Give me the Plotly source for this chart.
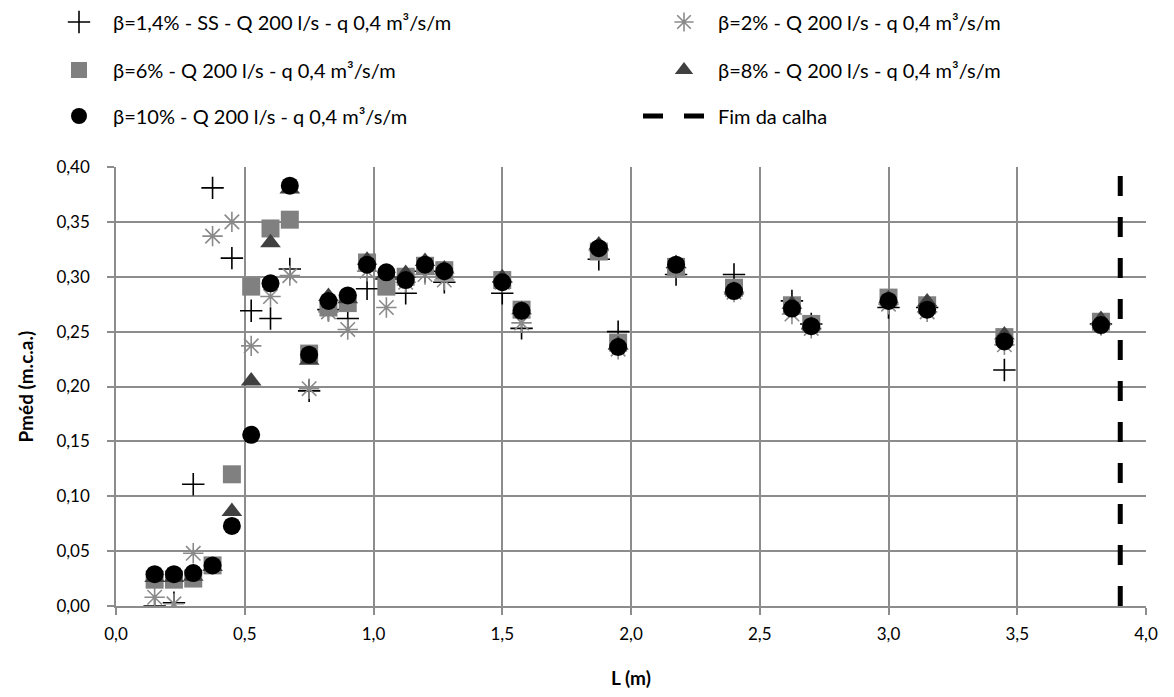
import plotly.graph_objects as go

# Measurement positions along the chute (m)
L_pos = [0.15, 0.225, 0.30, 0.375, 0.45, 0.525, 0.60, 0.675, 0.75, 0.825, 0.90, 0.975,
         1.05, 1.125, 1.20, 1.275, 1.50, 1.575, 1.875, 1.95, 2.175, 2.40, 2.625, 2.70,
         3.00, 3.15, 3.45, 3.825]

# Mean pressure (m.c.a.) for each slope
p_b14 = [0.000, 0.003, 0.111, 0.381, 0.317, 0.269, 0.262, 0.307, 0.196, 0.270, 0.262, 0.289,
         0.298, 0.285, 0.305, 0.295, 0.285, 0.253, 0.316, 0.250, 0.302, 0.302, 0.278, 0.257,
         0.272, 0.272, 0.215, 0.257]
p_b2 = [0.008, 0.002, 0.048, 0.337, 0.350, 0.237, 0.282, 0.301, 0.198, 0.268, 0.252, 0.305,
        0.272, 0.295, 0.302, 0.297, 0.295, 0.258, 0.324, 0.234, 0.308, 0.286, 0.266, 0.253,
        0.275, 0.268, 0.238, 0.256]
p_b6 = [0.024, 0.024, 0.025, 0.037, 0.120, 0.291, 0.344, 0.352, 0.230, 0.272, 0.276, 0.313,
        0.291, 0.300, 0.310, 0.306, 0.297, 0.270, 0.323, 0.240, 0.309, 0.290, 0.274, 0.257,
        0.281, 0.274, 0.245, 0.259]
p_b8 = [0.026, 0.026, 0.027, 0.036, 0.086, 0.205, 0.331, 0.380, 0.224, 0.282, 0.280, 0.315,
        0.303, 0.303, 0.314, 0.307, 0.299, 0.270, 0.329, 0.238, 0.312, 0.288, 0.275, 0.256,
        0.280, 0.277, 0.247, 0.261]
p_b10 = [0.029, 0.029, 0.030, 0.037, 0.073, 0.156, 0.294, 0.383, 0.229, 0.278, 0.283, 0.311,
         0.304, 0.297, 0.311, 0.305, 0.295, 0.269, 0.326, 0.236, 0.311, 0.287, 0.271, 0.255,
         0.278, 0.270, 0.241, 0.256]

# End of the chute
fim_x = [3.9, 3.9]
fim_y = [0.0, 0.40]

names = [
    "β=1,4% - SS - Q 200 l/s - q 0,4 m³/s/m",
    "β=2% - Q 200 l/s - q 0,4 m³/s/m",
    "β=6% - Q 200 l/s - q 0,4 m³/s/m",
    "β=8% - Q 200 l/s - q 0,4 m³/s/m",
    "β=10% - Q 200 l/s - q 0,4 m³/s/m",
    "Fim da calha",
]
x_title = "<b>L (m)</b>"
y_title = "<b>Pméd (m.c.a.)</b>"

FONT = "Lato"
GRID = "#8c8c8c"
W, H = 1174, 697
M_L, M_R, M_T, M_B = 116, 28, 167, 91
PLOT_W, PLOT_H = W - M_L - M_R, H - M_T - M_B

fig = go.Figure()

fig.add_trace(go.Scatter(
    x=L_pos, y=p_b14, mode="markers", name=names[0], legend="legend",
    marker=dict(symbol="cross-thin", size=16, color="#000000",
                line=dict(color="#000000", width=1.6)),
))
fig.add_trace(go.Scatter(
    x=L_pos, y=p_b2, mode="markers", name=names[1], legend="legend2",
    marker=dict(symbol="asterisk-open", size=17, color="#8a8a8a",
                line=dict(color="#8a8a8a", width=1.6)),
))
fig.add_trace(go.Scatter(
    x=L_pos, y=p_b6, mode="markers", name=names[2], legend="legend3",
    marker=dict(symbol="square", size=18, color="#808080"),
))
fig.add_trace(go.Scatter(
    x=L_pos, y=p_b8, mode="markers", name=names[3], legend="legend4",
    marker=dict(symbol="triangle-up", size=18, color="#404040"),
))
fig.add_trace(go.Scatter(
    x=L_pos, y=p_b10, mode="markers", name=names[4], legend="legend5",
    marker=dict(symbol="circle", size=18, color="#000000"),
))
fig.add_trace(go.Scatter(
    x=fim_x, y=fim_y, mode="lines", name=names[5], legend="legend6",
    line=dict(color="#000000", width=5, dash="20px,21px"),
))


def legend_box(left_px, center_px, item_w=58):
    # one legend entry placed in pixel terms of the whole figure
    return dict(
        orientation="v", xref="container", yref="container",
        x=left_px / W, xanchor="left", y=1 - center_px / H, yanchor="middle",
        font=dict(family=FONT, size=20, color="#000000"),
        bgcolor="rgba(0,0,0,0)", itemwidth=item_w, borderwidth=0,
    )


col1, col2 = 45, 650
row1, row2, row3 = 22, 70, 116

fig.update_layout(
    width=W, height=H,
    paper_bgcolor="white", plot_bgcolor="white",
    margin=dict(l=M_L, r=M_R, t=M_T, b=M_B, autoexpand=False),
    separators=",.",
    showlegend=True,
    font=dict(family=FONT, size=17, color="#000000"),
    legend=legend_box(col1, row1),
    legend2=legend_box(col2, row1),
    legend3=legend_box(col1, row2),
    legend4=legend_box(col2, row2),
    legend5=legend_box(col1, row3),
    legend6=legend_box(col2 - 12, row3, item_w=70),
    xaxis=dict(
        range=[0, 4], dtick=0.5, tick0=0, tickformat=".1f",
        showgrid=True, gridcolor=GRID, gridwidth=1.5,
        showline=True, linecolor=GRID, linewidth=1.5,
        zeroline=False, ticks="outside", ticklen=7, tickcolor=GRID, tickwidth=1.5,
        ticklabelstandoff=5,
        tickfont=dict(family=FONT, size=17, color="#000000"),
    ),
    yaxis=dict(
        range=[0, 0.40], dtick=0.05, tick0=0, tickformat=".2f",
        showgrid=True, gridcolor=GRID, gridwidth=1.5,
        showline=True, linecolor=GRID, linewidth=1.5,
        zeroline=False, ticks="outside", ticklen=7, tickcolor=GRID, tickwidth=1.5,
        ticklabelstandoff=14,
        tickfont=dict(family=FONT, size=17, color="#000000"),
    ),
    annotations=[
        # axis titles
        dict(text=x_title, xref="paper", yref="paper", x=0.5, y=-(677 - (H - M_B)) / PLOT_H,
             xanchor="center", yanchor="middle", showarrow=False,
             font=dict(family=FONT, size=19, color="#000000")),
        dict(text=y_title, xref="paper", yref="paper", x=(25 - M_L) / PLOT_W, y=0.5,
             xanchor="center", yanchor="middle", textangle=-90, showarrow=False,
             font=dict(family=FONT, size=19, color="#000000")),
    ],
)

fig.write_html("out.html")
